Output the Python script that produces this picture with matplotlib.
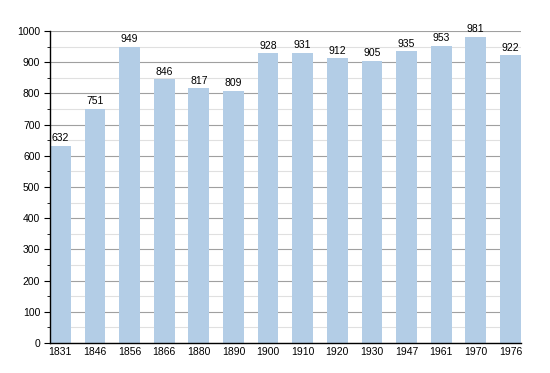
import matplotlib
matplotlib.use("Agg")
import matplotlib.pyplot as plt
from matplotlib.ticker import MultipleLocator

years = ["1831", "1846", "1856", "1866", "1880", "1890", "1900", "1910",
         "1920", "1930", "1947", "1961", "1970", "1976"]
population = [632, 751, 949, 846, 817, 809, 928, 931, 912, 905, 935, 953, 981, 922]

plt.rcParams['font.family'] = ['Liberation Sans', 'DejaVu Sans']

fig = plt.figure(figsize=(5.5, 3.73), dpi=100)
ax = fig.add_axes([0.0909, 0.0804, 0.856, 0.8365])

x = list(range(len(years)))
ax.bar(x, population, width=0.6, color="#b3cde6", zorder=2)
for xi, v in zip(x, population):
    ax.text(xi, v + 8, str(v), ha="center", va="bottom", fontsize=7.5, color="#000000")

ax.set_xlim(-0.3, len(years) - 0.7)
ax.set_ylim(0, 1000)
ax.set_xticks(x)
ax.set_xticklabels(years)
ax.yaxis.set_major_locator(MultipleLocator(100))
ax.yaxis.set_minor_locator(MultipleLocator(50))
ax.grid(axis="y", which="major", color="#a0a0a0", linewidth=0.8, zorder=0)
ax.grid(axis="y", which="minor", color="#e0e0e0", linewidth=0.8, zorder=0)
ax.set_axisbelow(True)
for s in ["top", "right"]:
    ax.spines[s].set_visible(False)
ax.spines["left"].set_linewidth(1.0)
ax.spines["bottom"].set_linewidth(1.0)
ax.tick_params(axis="x", length=0, labelsize=7.5, pad=3)
ax.tick_params(axis="y", which="major", length=4, labelsize=7.5, pad=3)
ax.tick_params(axis="y", which="minor", length=2)

fig.savefig("out.png", dpi=100)
